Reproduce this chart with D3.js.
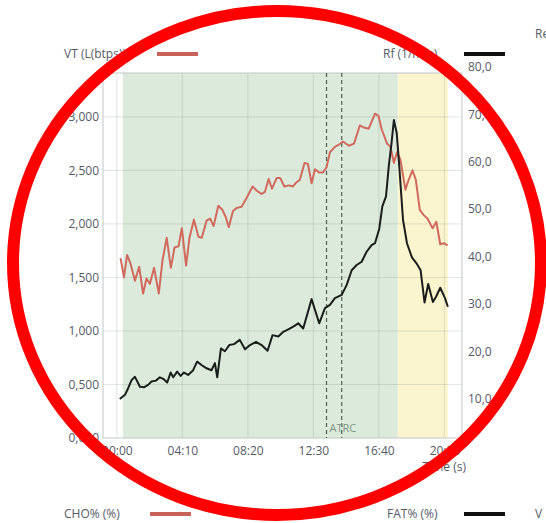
<!DOCTYPE html>
<html>
<head>
<meta charset="utf-8">
<script src="https://cdn.jsdelivr.net/npm/d3@7"></script>
<style>
  body { margin: 0; background: #fff; }
  svg { display: block; font-family: "Open Sans", sans-serif; }
</style>
</head>
<body>
<svg id="chart" width="546" height="523"></svg>
<script>
// time in seconds
const vtTime = [14, 27, 39, 52, 69, 85, 100, 113, 126, 142, 160, 174, 190, 206, 220, 235, 248, 264, 277, 294,
  311, 324, 342, 356, 369, 387, 403, 416, 427, 443, 458, 476, 492, 518, 534, 552, 565, 579, 592, 610,
  623, 639, 656, 671, 686, 698, 716, 729, 743, 756, 772, 787, 800, 813, 832, 847, 863, 885, 905, 927,
  943, 961, 985, 998, 1011, 1031, 1044, 1057, 1069, 1082, 1101, 1113, 1128, 1141, 1156, 1172, 1185, 1205, 1219, 1234,
  1248, 1262];
const vtValues = [1.68, 1.50, 1.71, 1.63, 1.47, 1.60, 1.35, 1.49, 1.44, 1.59, 1.35, 1.66, 1.87, 1.59, 1.78, 1.79, 1.96, 1.61, 1.87, 2.04,
  1.88, 1.87, 2.03, 2.05, 1.98, 2.17, 2.13, 2.06, 1.97, 2.12, 2.15, 2.16, 2.23, 2.35, 2.31, 2.28, 2.30, 2.42, 2.33, 2.43,
  2.43, 2.35, 2.36, 2.35, 2.39, 2.41, 2.57, 2.56, 2.38, 2.51, 2.48, 2.48, 2.53, 2.67, 2.72, 2.74, 2.77, 2.73, 2.75, 2.92,
  2.90, 2.89, 3.03, 3.01, 2.88, 2.75, 2.72, 2.57, 2.67, 2.60, 2.32, 2.41, 2.50, 2.41, 2.13, 2.08, 2.05, 1.96, 2.02, 1.81,
  1.82, 1.80];

const rfTime = [11, 31, 43, 56, 69, 88, 103, 119, 132, 149, 164, 179, 192, 205, 215, 230, 243, 256, 272, 291,
  306, 323, 342, 361, 374, 383, 397, 412, 429, 447, 469, 489, 508, 531, 552, 575, 594, 616, 635, 654,
  673, 692, 711, 743, 772, 794, 813, 832, 858, 877, 896, 915, 934, 953, 972, 985, 1001, 1013, 1027, 1038,
  1048, 1057, 1068, 1077, 1092, 1107, 1126, 1144, 1159, 1174, 1188, 1206, 1218, 1234, 1252, 1263];
const rfValues = [9.9, 10.8, 12.2, 13.9, 14.6, 12.5, 12.4, 12.9, 13.6, 13.8, 14.5, 14.1, 13.4, 15.5, 14.5, 15.7, 14.8, 15.5, 15.0, 16.0,
  17.8, 17.1, 16.4, 16.0, 17.5, 14.5, 20.6, 20.0, 21.3, 21.5, 22.4, 20.4, 21.3, 22.0, 21.3, 20.1, 23.4, 23.1, 24.1, 24.6,
  25.2, 25.9, 24.8, 31.0, 25.9, 29.1, 29.8, 31.2, 31.9, 34.0, 37.1, 38.2, 38.9, 41.0, 42.4, 42.8, 45.8, 50.6, 52.7, 59.3,
  63.9, 68.8, 66.0, 59.5, 47.7, 42.8, 39.8, 38.5, 37.1, 30.3, 34.2, 30.4, 31.5, 33.4, 31.2, 29.4];

const xTicks = [0, 250, 500, 750, 1000, 1250];
const xTickLabels = ["00:00", "04:10", "08:20", "12:30", "16:40", "20:50"];
const leftTicks = [0, 0.5, 1, 1.5, 2, 2.5, 3];
const rightTicks = [10, 20, 30, 40, 50, 60, 70, 80];

// phases: green from start to end of first, yellow after
const phaseBounds = [23, 1072, 1263];
const phaseColors = ["#dceadb", "#faf5cf"];
const atrcTimes = [800, 858];

const svg = d3.select("#chart");
const plotTop = 73, plotBottom = 438, plotLeft = 103, plotRight = 462;

const x = d3.scaleLinear().domain([-53, 1317]).range([plotLeft, plotRight]);
const yL = d3.scaleLinear().domain([0, 3.41]).range([plotBottom, plotTop]);
const yR = d3.scaleLinear().domain([0, 80]).range([446, 67]);

const comma = f => v => d3.format(f)(v).replace(".", ",");
const textColor = "#555a66";

// phases
svg.append("g").selectAll("rect")
  .data(phaseColors)
  .join("rect")
  .attr("x", (d, i) => x(phaseBounds[i]))
  .attr("width", (d, i) => x(phaseBounds[i + 1]) - x(phaseBounds[i]))
  .attr("y", plotTop)
  .attr("height", plotBottom - plotTop)
  .attr("fill", d => d);

// grid
svg.append("g").selectAll("line")
  .data(leftTicks.slice(1))
  .join("line")
  .attr("x1", plotLeft).attr("x2", plotRight)
  .attr("y1", d => yL(d)).attr("y2", d => yL(d))
  .attr("stroke", "rgba(120,130,125,0.22)");
svg.append("g").selectAll("line")
  .data(xTicks)
  .join("line")
  .attr("y1", plotTop).attr("y2", plotBottom)
  .attr("x1", d => x(d)).attr("x2", d => x(d))
  .attr("stroke", "rgba(120,130,125,0.22)");

// frame
svg.append("rect")
  .attr("x", plotLeft).attr("y", plotTop)
  .attr("width", plotRight - plotLeft).attr("height", plotBottom - plotTop)
  .attr("fill", "none").attr("stroke", "#c4c6c8");

// threshold lines
svg.append("g").selectAll("line")
  .data(atrcTimes)
  .join("line")
  .attr("x1", d => x(d)).attr("x2", d => x(d))
  .attr("y1", plotTop).attr("y2", plotBottom)
  .attr("stroke", "#4f5f52")
  .attr("stroke-width", 1.2)
  .attr("stroke-dasharray", "4,3");
svg.append("text")
  .attr("x", x(atrcTimes[0]) + 3).attr("y", 432)
  .attr("font-size", 11).attr("fill", "#7d9584")
  .text("ATRC");

// axes
const xAxis = svg.append("g")
  .attr("transform", `translate(0,${plotBottom})`)
  .call(d3.axisBottom(x).tickValues(xTicks).tickSize(0).tickPadding(8)
    .tickFormat((d, i) => xTickLabels[i]));
const lAxis = svg.append("g")
  .attr("transform", `translate(${plotLeft},0)`)
  .call(d3.axisLeft(yL).tickValues(leftTicks).tickSize(0).tickPadding(4)
    .tickFormat(comma(".3f")));
const rAxis = svg.append("g")
  .attr("transform", `translate(${plotRight},0)`)
  .call(d3.axisRight(yR).tickValues(rightTicks).tickSize(0).tickPadding(6)
    .tickFormat(comma(".1f")));
[xAxis, lAxis, rAxis].forEach(a => {
  a.select(".domain").remove();
  a.selectAll("text").attr("font-size", 12).attr("fill", textColor)
    .attr("font-family", "'Open Sans', sans-serif");
});

svg.append("text")
  .attr("x", 466).attr("y", 471).attr("text-anchor", "end")
  .attr("font-size", 12).attr("fill", textColor)
  .text("Time (s)");

// lines
const vtLine = d3.line().x((d, i) => x(vtTime[i])).y(d => yL(d));
const rfLine = d3.line().x((d, i) => x(rfTime[i])).y(d => yR(d));
svg.append("path")
  .attr("d", vtLine(vtValues))
  .attr("fill", "none").attr("stroke", "#d06a5e").attr("stroke-width", 2)
  .attr("stroke-linejoin", "round");
svg.append("path")
  .attr("d", rfLine(rfValues))
  .attr("fill", "none").attr("stroke", "#1b1d1c").attr("stroke-width", 2)
  .attr("stroke-linejoin", "round");

// legends
const legends = [
  { label: "VT (L(btps))", x: 64, y: 58, color: "#c9625a", lx: 157 },
  { label: "Rf (1/min)", x: 383, y: 58, color: "#111", lx: 464 },
  { label: "CHO% (%)", x: 64, y: 518, color: "#c9625a", lx: 150 },
  { label: "FAT% (%)", x: 387, y: 518, color: "#111", lx: 464 }
];
const lg = svg.append("g").selectAll("g").data(legends).join("g");
lg.append("text")
  .attr("x", d => d.x).attr("y", d => d.y)
  .attr("font-size", 12).attr("fill", textColor)
  .text(d => d.label);
lg.append("line")
  .attr("x1", d => d.lx).attr("x2", d => d.lx + 41)
  .attr("y1", d => d.y - 4).attr("y2", d => d.y - 4)
  .attr("stroke", d => d.color).attr("stroke-width", 4);
// labels of the next panels, cut by the picture edge
svg.append("text").attr("x", 535).attr("y", 38)
  .attr("font-size", 12).attr("fill", textColor).text("Re");
svg.append("text").attr("x", 535).attr("y", 518)
  .attr("font-size", 12).attr("fill", textColor).text("V");

// red ring on top
svg.append("ellipse")
  .attr("cx", 277).attr("cy", 263)
  .attr("rx", 264).attr("ry", 252)
  .attr("fill", "none").attr("stroke", "#fe0000").attr("stroke-width", 12);
</script>
</body>
</html>
